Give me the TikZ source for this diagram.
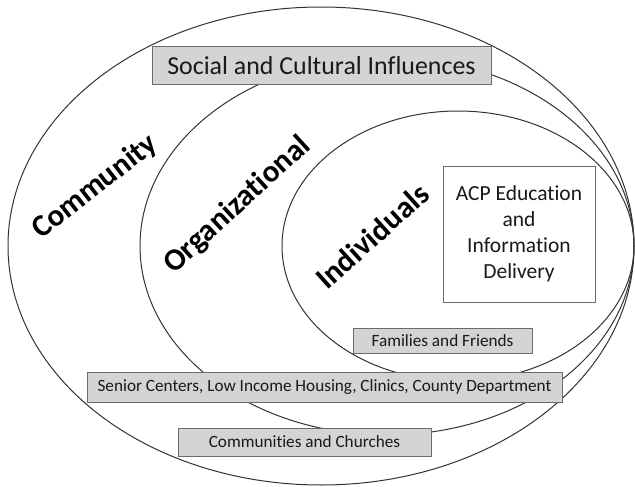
\documentclass[tikz,border=0pt]{standalone}
\usepackage{fontspec}
\setmainfont{Carlito}[Ligatures=NoCommon]
\begin{document}
\begin{tikzpicture}[x=1pt,y=-1pt,
  ring/.style={draw=black!80,line width=1pt},
  graybox/.style={draw=black!58,fill=black!17,line width=1pt,inner sep=0pt,align=center,text=black!90},
  whitebox/.style={draw=black!58,fill=white,line width=1pt,inner sep=0pt,align=center,text=black!90},
  levellabel/.style={font=\fontsize{31}{36}\selectfont\bfseries,inner sep=0pt}]
\useasboundingbox (0,0) rectangle (635,487);
% nested spheres of influence, all touching at the right-hand side
\draw[ring] (321,246) ellipse [x radius=313, y radius=239];
\draw[ring] (387,246) ellipse [x radius=247, y radius=189];
\draw[ring] (458,246) ellipse [x radius=176, y radius=135];
% level names
\node[levellabel,rotate=38] (community) at (95,187) {Community};
\node[levellabel,rotate=42.5] (organizational) at (237.5,205) {Organizational};
\node[levellabel,rotate=42] (individuals) at (372,236) {Individuals};
% label boxes
\node[graybox,minimum width=339pt,minimum height=38pt,font=\fontsize{25.9}{31}\selectfont] (social) at (321.5,66) {Social and Cultural Influences};
\node[whitebox,minimum width=152pt,minimum height=136pt,font=\fontsize{21.5}{26}\selectfont] (acp) at (519,234) {ACP Education\\and\\Information\\Delivery};
\node[graybox,minimum width=179pt,minimum height=25pt,font=\fontsize{17.2}{20}\selectfont] (families) at (442.5,340.5) {Families and Friends};
\node[graybox,minimum width=475pt,minimum height=30pt,font=\fontsize{17.2}{20}\selectfont] (senior) at (324.5,387) {Senior Centers, Low Income Housing, Clinics, County Department};
\node[graybox,minimum width=253pt,minimum height=28pt,font=\fontsize{17.2}{20}\selectfont] (churches) at (304.5,442) {Communities and Churches};
\end{tikzpicture}
\end{document}
